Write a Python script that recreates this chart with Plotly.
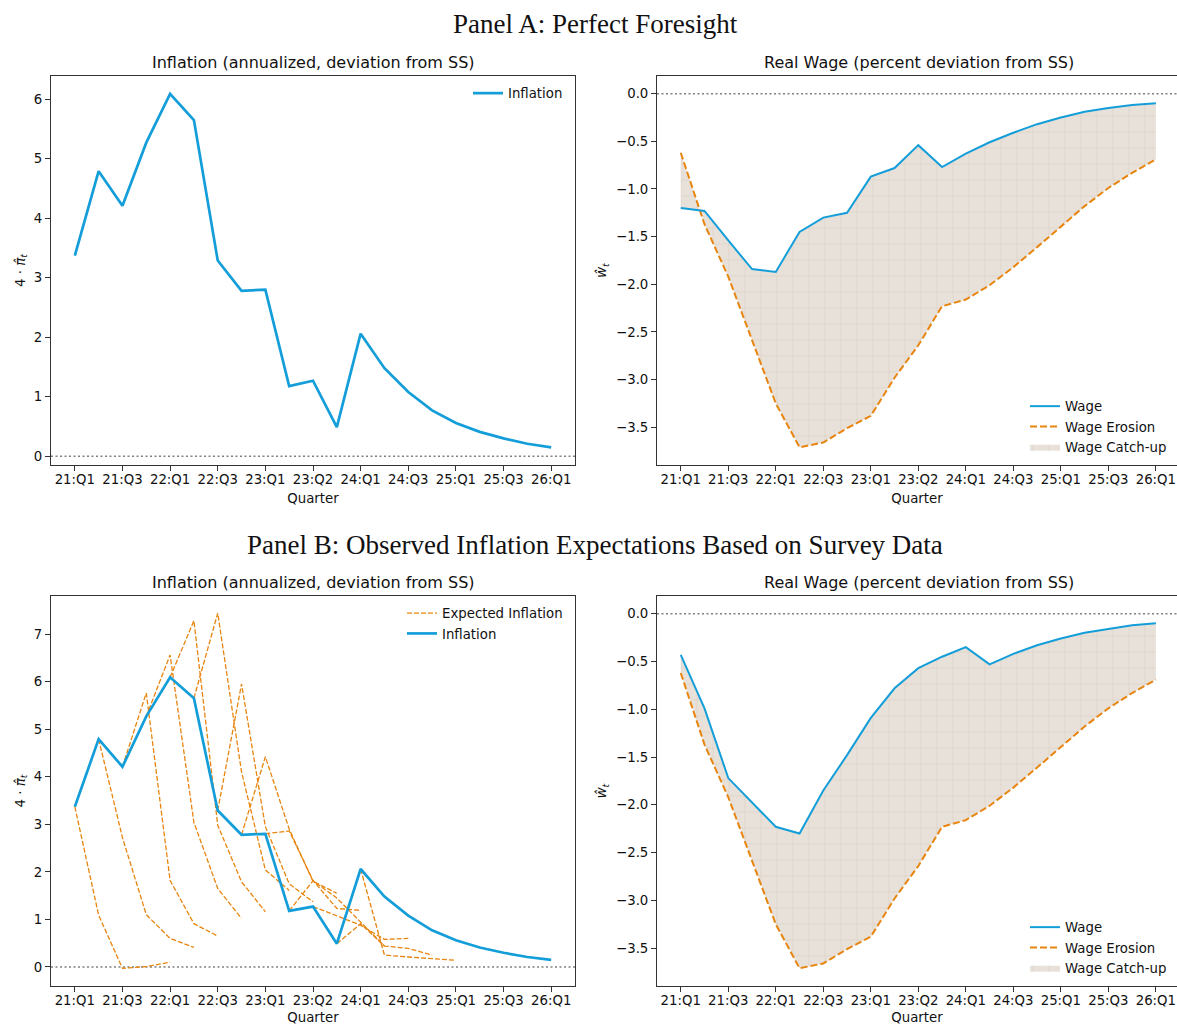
import plotly.graph_objects as go

# quarters 21:Q1 ... 26:Q1 (21 points), ticks every second quarter
quarter_labels = ["21:Q1", "21:Q3", "22:Q1", "22:Q3", "23:Q1", "23:Q2",
                  "24:Q1", "24:Q3", "25:Q1", "25:Q3", "26:Q1"]
n_quarters = 21
quarters = list(range(n_quarters))

inflation = [3.37, 4.79, 4.21, 5.27, 6.09, 5.65, 3.29, 2.78, 2.80, 1.18, 1.27,
             0.49, 2.06, 1.48, 1.08, 0.77, 0.56, 0.41, 0.30, 0.21, 0.15]

wage_foresight = [-1.20, -1.23, -1.54, -1.84, -1.87, -1.45, -1.30, -1.25, -0.87, -0.78, -0.54,
                  -0.77, -0.63, -0.51, -0.41, -0.32, -0.25, -0.19, -0.15, -0.12, -0.10]

wage_survey = [-0.43, -0.99, -1.72, -1.98, -2.23, -2.30, -1.85, -1.48, -1.09, -0.78, -0.57,
               -0.45, -0.35, -0.53, -0.42, -0.33, -0.26, -0.20, -0.16, -0.12, -0.10]

wage_erosion = [-0.62, -1.37, -1.92, -2.58, -3.25, -3.71, -3.66, -3.51, -3.38, -2.98, -2.64,
                -2.23, -2.16, -2.01, -1.82, -1.61, -1.39, -1.18, -0.99, -0.83, -0.69]

# survey based expectations: the k-th path starts in quarter k
expected_paths = [
    [3.37, 1.09, -0.03, 0.01, 0.10],
    [4.79, 2.72, 1.10, 0.60, 0.41],
    [4.21, 5.76, 1.82, 0.91, 0.65],
    [5.27, 6.56, 3.04, 1.65, 1.02],
    [6.09, 7.28, 2.98, 1.79, 1.16],
    [5.65, 7.44, 4.10, 2.04, 1.61],
    [3.29, 5.95, 2.95, 1.75, 1.37],
    [2.78, 4.42, 2.90, 1.80, 1.55],
    [2.80, 2.86, 1.82, 1.23, 1.19],
    [1.18, 1.81, 1.45, 0.95, 0.44],
    [1.27, 1.08, 0.88, 0.58, 0.60],
    [0.49, 0.91, 0.44, 0.39, 0.25],
    [2.06, 0.25, 0.21, 0.18, 0.14],
]

BLUE = "#149ed9"
ORANGE = "#e8850f"
FILL = "#e8e1da"
FONT = "DejaVu Sans"
W, H = 1177, 1025


def px_x(p):
    return p / W


def px_y(p):
    return 1 - p / H


fig = go.Figure()


def add_wage_panel(xa, ya, wage, legend):
    # invisible base for the catch-up area
    fig.add_trace(go.Scatter(x=quarters, y=wage_erosion, mode="lines", line=dict(width=0),
                             showlegend=False, hoverinfo="skip", xaxis=xa, yaxis=ya))
    fig.add_trace(go.Scatter(x=quarters, y=wage, mode="lines", line=dict(width=0),
                             fill="tonexty", fillcolor=FILL,
                             fillpattern=dict(shape="+", bgcolor=FILL, fgcolor="#d5c9bc",
                                              size=16, solidity=0.12),
                             name="Wage Catch-up", legend=legend, legendrank=3,
                             xaxis=xa, yaxis=ya))
    fig.add_trace(go.Scatter(x=quarters, y=wage_erosion, mode="lines",
                             line=dict(color=ORANGE, width=2, dash="7px,3px"),
                             name="Wage Erosion", legend=legend, legendrank=2,
                             xaxis=xa, yaxis=ya))
    fig.add_trace(go.Scatter(x=quarters, y=wage, mode="lines",
                             line=dict(color=BLUE, width=2),
                             name="Wage", legend=legend, legendrank=1,
                             xaxis=xa, yaxis=ya))


# Panel A left: inflation
fig.add_trace(go.Scatter(x=quarters, y=inflation, mode="lines", line=dict(color=BLUE, width=2.7),
                         name="Inflation", legend="legend", xaxis="x", yaxis="y"))
# Panel A right: wage
add_wage_panel("x2", "y2", wage_foresight, "legend2")

# Panel B left: expectations + inflation
for k, path in enumerate(expected_paths):
    fig.add_trace(go.Scatter(x=quarters[k:k + len(path)], y=path, mode="lines",
                             line=dict(color=ORANGE, width=1.3, dash="5px,2px"),
                             name="Expected Inflation", legend="legend3", legendgroup="exp",
                             showlegend=(k == 0), xaxis="x3", yaxis="y3"))
fig.add_trace(go.Scatter(x=quarters, y=inflation, mode="lines", line=dict(color=BLUE, width=2.7),
                         name="Inflation", legend="legend3", xaxis="x3", yaxis="y3"))
# Panel B right: wage
add_wage_panel("x4", "y4", wage_survey, "legend4")

# layout geometry (pixels)
left_x = [51, 575]
right_x = [657, 1177]
top_y = [76, 465]
bot_y = [596, 986]

axis_common = dict(showline=True, linecolor="#333333", linewidth=1, ticks="outside",
                   ticklen=5, tickwidth=1, tickcolor="#333333", showgrid=False,
                   zeroline=False, automargin=False,
                   tickfont=dict(family=FONT, size=13.3, color="#111111"))

xticks = dict(tickmode="array", tickvals=quarters[::2], ticktext=quarter_labels,
              ticklabelstandoff=-3,
              title=dict(text="Quarter", font=dict(family=FONT, size=13.3, color="#111111"),
                         standoff=7))

infl_label = "4 · <i>π̂</i><sub><i>t</i></sub>"
wage_label = "<i>ŵ</i><sub><i>t</i></sub>"
ylab_font = dict(family=FONT, size=13.3, color="#111111")

fig.update_layout(
    width=W, height=H,
    margin=dict(l=0, r=0, t=0, b=0),
    plot_bgcolor="white", paper_bgcolor="white",
    font=dict(family=FONT, size=13.3, color="#111111"),
    xaxis=dict(domain=[px_x(left_x[0]), px_x(left_x[1])], range=[-1, 21], mirror=True,
               anchor="y", **xticks, **axis_common),
    yaxis=dict(domain=[px_y(top_y[1]), px_y(top_y[0])], range=[-0.147, 6.39], mirror=True,
               anchor="x", tickvals=[0, 1, 2, 3, 4, 5, 6],
               title=dict(text=infl_label, font=ylab_font, standoff=5), **axis_common),
    # right panels are cut by the page edge, so the x range stops short of 21
    xaxis2=dict(domain=[px_x(right_x[0]), 1.0], range=[-1, 20.89], mirror=True,
                anchor="y2", **xticks, **axis_common),
    yaxis2=dict(domain=[px_y(top_y[1]), px_y(top_y[0])], range=[-3.896, 0.1855],
                anchor="x2", tickvals=[0, -0.5, -1, -1.5, -2, -2.5, -3, -3.5], tickformat=".1f",
                title=dict(text=wage_label, font=ylab_font, standoff=6), **axis_common),
    xaxis3=dict(domain=[px_x(left_x[0]), px_x(left_x[1])], range=[-1, 21], mirror=True,
                anchor="y3", **xticks, **axis_common),
    yaxis3=dict(domain=[px_y(bot_y[1]), px_y(bot_y[0])], range=[-0.40, 7.80], mirror=True,
                anchor="x3", tickvals=[0, 1, 2, 3, 4, 5, 6, 7],
                title=dict(text=infl_label, font=ylab_font, standoff=5), **axis_common),
    xaxis4=dict(domain=[px_x(right_x[0]), 1.0], range=[-1, 20.89], mirror=True,
                anchor="y4", **xticks, **axis_common),
    yaxis4=dict(domain=[px_y(bot_y[1]), px_y(bot_y[0])], range=[-3.896, 0.1855],
                anchor="x4", tickvals=[0, -0.5, -1, -1.5, -2, -2.5, -3, -3.5], tickformat=".1f",
                title=dict(text=wage_label, font=ylab_font, standoff=6), **axis_common),
)

legend_common = dict(bgcolor="rgba(0,0,0,0)", borderwidth=0, tracegroupgap=0,
                     font=dict(family=FONT, size=13.3, color="#111111"),
                     xanchor="right", itemwidth=30)
fig.update_layout(
    legend=dict(x=px_x(568), y=px_y(78), yanchor="top", **legend_common),
    legend2=dict(x=px_x(1172), y=px_y(462), yanchor="bottom", traceorder="normal", **legend_common),
    legend3=dict(x=px_x(568), y=px_y(598), yanchor="top", **legend_common),
    legend4=dict(x=px_x(1172), y=px_y(983), yanchor="bottom", traceorder="normal", **legend_common),
)

# dotted zero lines
for xa, ya in [("x", "y"), ("x2", "y2"), ("x3", "y3"), ("x4", "y4")]:
    fig.add_shape(type="line", xref=f"{xa} domain", yref=ya, x0=0, x1=1, y0=0, y1=0,
                  line=dict(color="#808080", width=1.5, dash="2px,2.5px"), layer="below")

# titles
titles = [
    ("Inflation (annualized, deviation from SS)", (left_x[0] + left_x[1]) / 2, top_y[0]),
    ("Real Wage (percent deviation from SS)", (right_x[0] + 1180) / 2, top_y[0]),
    ("Inflation (annualized, deviation from SS)", (left_x[0] + left_x[1]) / 2, bot_y[0]),
    ("Real Wage (percent deviation from SS)", (right_x[0] + 1180) / 2, bot_y[0]),
]
for text, cx, top in titles:
    fig.add_annotation(text=text, x=px_x(cx), y=px_y(top - 2), xref="paper", yref="paper",
                       xanchor="center", yanchor="bottom", showarrow=False,
                       font=dict(family=FONT, size=16, color="#111111"))

fig.add_annotation(text="Panel A: Perfect Foresight", x=px_x(595), y=px_y(24),
                   xref="paper", yref="paper", xanchor="center", yanchor="middle", showarrow=False,
                   font=dict(family="Liberation Serif", size=27, color="#111111"))
fig.add_annotation(text="Panel B: Observed Inflation Expectations Based on Survey Data",
                   x=px_x(595), y=px_y(545), xref="paper", yref="paper",
                   xanchor="center", yanchor="middle", showarrow=False,
                   font=dict(family="Liberation Serif", size=27, color="#111111"))

# drop the default page margin so the figure sits at the top-left corner
fig.write_html("out.html", config={"displayModeBar": False},
               post_script="document.body.style.margin='0';")
